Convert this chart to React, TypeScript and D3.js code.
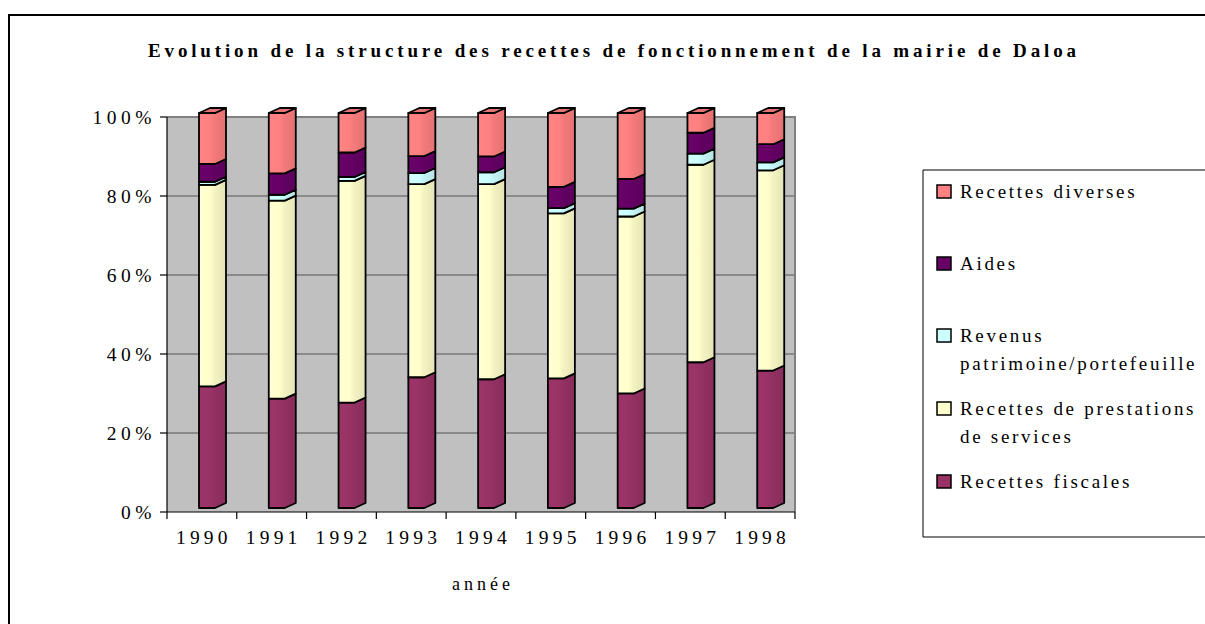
import React from "react";
import * as d3 from "d3";

// annees et parts (%) de chaque type de recette
const years = ["1990", "1991", "1992", "1993", "1994", "1995", "1996", "1997", "1998"];
const recettesFiscales = [30.8, 27.7, 26.7, 33.1, 32.6, 32.8, 29.0, 36.9, 34.8];
const prestationsServices = [51.0, 50.1, 56.1, 48.9, 49.4, 41.8, 44.8, 50.0, 50.7];
const revenusPatrimoine = [0.8, 1.5, 1.0, 2.8, 3.0, 1.3, 2.0, 2.8, 2.0];
const aides = [4.5, 5.4, 6.2, 4.3, 4.0, 5.4, 7.5, 5.3, 4.6];
const recettesDiverses = [12.9, 15.3, 10.0, 10.9, 11.0, 18.7, 16.7, 5.0, 7.9];

const seriesKeys = ["fiscales", "prestations", "patrimoine", "aides", "diverses"];
const seriesLabels = [
  ["Recettes fiscales"],
  ["Recettes de prestations", "de services"],
  ["Revenus", "patrimoine/portefeuille"],
  ["Aides"],
  ["Recettes diverses"],
];
const seriesColors = ["#993366", "#FFFFCC", "#CCFFFF", "#660066", "#FF8080"];
const yTicks = [0, 0.2, 0.4, 0.6, 0.8, 1];

const font = "'Liberation Serif', 'Times New Roman', serif";

const App = () => {
  const plotLeft = 167;
  const plotRight = 795;
  const plotTop = 117;
  const plotBottom = 512;

  const table = years.map((y, i) => ({
    year: y,
    fiscales: recettesFiscales[i],
    prestations: prestationsServices[i],
    patrimoine: revenusPatrimoine[i],
    aides: aides[i],
    diverses: recettesDiverses[i],
  }));

  const stacked = d3.stack().keys(seriesKeys).offset(d3.stackOffsetExpand)(table as any);

  const x = d3.scaleBand().domain(years).range([plotLeft, plotRight]).padding(0);
  const y = d3.scaleLinear().domain([0, 1]).range([plotBottom, plotTop]);

  // 3D column geometry
  const lift = 4;
  const offset = 32;
  const fw = 16;
  const dx = 11;
  const dy = 5;

  const segPath = (x0: number, yb: number, yt: number) => {
    const p = d3.path();
    p.moveTo(x0, yb);
    p.lineTo(x0 + fw, yb);
    p.lineTo(x0 + fw + dx, yb - dy);
    p.lineTo(x0 + fw + dx, yt - dy);
    p.lineTo(x0 + fw, yt);
    p.lineTo(x0, yt);
    p.closePath();
    return p.toString();
  };

  const capPath = (x0: number, yt: number) => {
    const p = d3.path();
    p.moveTo(x0, yt);
    p.lineTo(x0 + fw, yt);
    p.lineTo(x0 + fw + dx, yt - dy);
    p.lineTo(x0 + dx, yt - dy);
    p.closePath();
    return p.toString();
  };

  const legendRows = [
    { idx: 4, base: 198 },
    { idx: 3, base: 270 },
    { idx: 2, base: 342 },
    { idx: 1, base: 415 },
    { idx: 0, base: 488 },
  ];

  return (
    <>
      <style>{"html,body{margin:0;overflow:hidden}"}</style>
      <svg width={1205} height={624} style={{ display: "block", background: "#fff" }}>
        <defs>
          {seriesColors.map((c, i) => {
            const base = d3.color(c)!;
            return (
              <linearGradient key={i} id={`g${i}`} x1="0" x2="1" y1="0" y2="0">
                <stop offset="0" stopColor={base.brighter(0.08).formatHex()} />
                <stop offset="0.4" stopColor={base.formatHex()} />
                <stop offset="0.6" stopColor={base.darker(0.15).formatHex()} />
                <stop offset="1" stopColor={base.darker(0.32).formatHex()} />
              </linearGradient>
            );
          })}
        </defs>

        {/* cadre */}
        <path d="M1215,15H9V640" fill="none" stroke="#000" strokeWidth={2} />

        <text
          x={148}
          y={57}
          fontFamily={font}
          fontWeight="bold"
          fontSize={19}
          textLength={928}
          lengthAdjust="spacing"
        >
          Evolution de la structure des recettes de fonctionnement de la mairie de Daloa
        </text>

        {/* zone de tracé */}
        <rect x={plotLeft} y={plotTop} width={plotRight - plotLeft} height={plotBottom - plotTop} fill="#C0C0C0" />
        {yTicks.slice(1, -1).map((t) => (
          <line key={t} x1={plotLeft} x2={plotRight} y1={y(t)} y2={y(t)} stroke="#555" strokeWidth={1.2} />
        ))}
        <path
          d={`M${plotLeft},${plotTop}H${plotRight}V${plotBottom}`}
          fill="none"
          stroke="#808080"
          strokeWidth={2}
        />

        {/* axes */}
        <line x1={plotLeft} x2={plotLeft} y1={plotTop} y2={plotBottom} stroke="#000" strokeWidth={1.2} />
        <line x1={plotLeft} x2={plotRight} y1={plotBottom} y2={plotBottom} stroke="#000" strokeWidth={1.2} />
        {yTicks.map((t) => (
          <g key={t}>
            <line x1={plotLeft - 7} x2={plotLeft} y1={y(t)} y2={y(t)} stroke="#000" strokeWidth={1.2} />
            <text
              x={156}
              y={y(t) + 6.5}
              textAnchor="end"
              fontFamily={font}
              fontSize={19.5}
              letterSpacing={4.5}
            >
              {d3.format(".0%")(t)}
            </text>
          </g>
        ))}
        {[...years.map((yr) => x(yr)!), plotRight].map((bx, i) => (
          <line key={i} x1={bx} x2={bx} y1={plotBottom} y2={plotBottom + 7} stroke="#000" strokeWidth={1.2} />
        ))}
        {years.map((yr) => (
          <text
            key={yr}
            x={x(yr)! + x.bandwidth() / 2 + 2}
            y={544}
            textAnchor="middle"
            fontFamily={font}
            fontSize={19.5}
            letterSpacing={4.2}
          >
            {yr}
          </text>
        ))}
        <text x={483} y={590} textAnchor="middle" fontFamily={font} fontSize={18} letterSpacing={4}>
          année
        </text>

        {/* colonnes */}
        {years.map((yr, j) => {
          const x0 = x(yr)! + offset;
          return (
            <g key={yr}>
              {stacked.map((s, i) => {
                const d = s[j];
                return (
                  <path
                    key={i}
                    d={segPath(x0, y(d[0]) - lift, y(d[1]) - lift)}
                    fill={`url(#g${i})`}
                    stroke="#000"
                    strokeWidth={1.8}
                    strokeLinejoin="round"
                  />
                );
              })}
              <path
                d={capPath(x0, y(1) - lift)}
                fill={d3.color(seriesColors[4])!.darker(0.3).formatHex()}
                stroke="#000"
                strokeWidth={1.8}
                strokeLinejoin="round"
              />
            </g>
          );
        })}

        {/* légende */}
        <path d="M1215,170H923V537H1215" fill="#fff" stroke="#000" strokeWidth={1} />
        {legendRows.map((r) => (
          <g key={r.idx}>
            <rect
              x={937}
              y={r.base - 13}
              width={14}
              height={13}
              fill={seriesColors[r.idx]}
              stroke="#000"
              strokeWidth={1.5}
            />
            {seriesLabels[r.idx].map((line, k) => (
              <text
                key={k}
                x={960}
                y={r.base + k * 28}
                fontFamily={font}
                fontSize={19}
                letterSpacing={2.7}
              >
                {line}
              </text>
            ))}
          </g>
        ))}
      </svg>
    </>
  );
};

export default App;
